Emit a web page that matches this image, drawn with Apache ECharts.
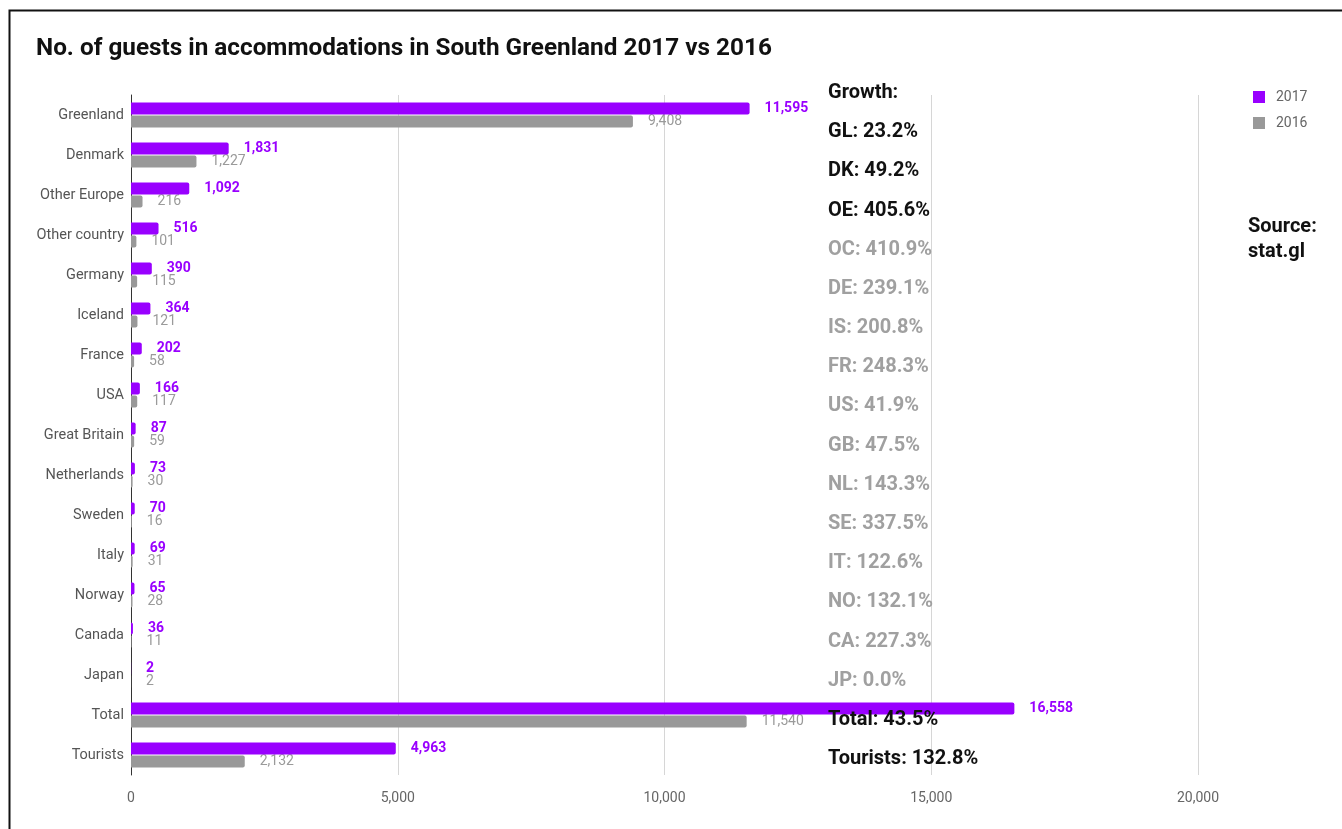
<!DOCTYPE html>
<html>
<head>
<meta charset="utf-8">
<script src="https://cdn.jsdelivr.net/npm/echarts@6/dist/echarts.min.js"></script>
<style>
  html, body { margin: 0; padding: 0; background: #ffffff; }
  #chart { width: 1342px; height: 829px; }
</style>
</head>
<body>
<div id="chart"></div>
<script>
// Guests in accommodations, South Greenland, by nationality
const categories = ['Greenland', 'Denmark', 'Other Europe', 'Other country', 'Germany', 'Iceland',
  'France', 'USA', 'Great Britain', 'Netherlands', 'Sweden', 'Italy', 'Norway', 'Canada', 'Japan',
  'Total', 'Tourists'];
const guests2017 = [11595, 1831, 1092, 516, 390, 364, 202, 166, 87, 73, 70, 69, 65, 36, 2, 16558, 4963];
const guests2016 = [9408, 1227, 216, 101, 115, 121, 58, 117, 59, 30, 16, 31, 28, 11, 2, 11540, 2132];
const xTicks = [0, 5000, 10000, 15000, 20000];

// Growth notes shown beside the bars (dark = highlighted, grey = others)
const growthLines = ['Growth:', 'GL: 23.2%', 'DK: 49.2%', 'OE: 405.6%', 'OC: 410.9%', 'DE: 239.1%',
  'IS: 200.8%', 'FR: 248.3%', 'US: 41.9%', 'GB: 47.5%', 'NL: 143.3%', 'SE: 337.5%', 'IT: 122.6%',
  'NO: 132.1%', 'CA: 227.3%', 'JP: 0.0%', 'Total: 43.5%', 'Tourists: 132.8%'];
const growthHighlighted = [true, true, true, true, false, false, false, false, false, false, false,
  false, false, false, false, false, true, true];
const sourceLines = ['Source:', 'stat.gl'];

const PURPLE = '#9900ff';
const GREY = '#999999';
const FONT = 'Roboto, "Noto Sans", Arial, sans-serif';

const fmt = v => Number(v).toLocaleString('en-US');

const chart = echarts.init(document.getElementById('chart'), null, { renderer: 'canvas' });

const graphics = [
  // frame around the chart (left and top edges)
  {
    type: 'polyline',
    shape: { points: [[9.5, 829], [9.5, 10.5], [1342, 10.5]] },
    style: { stroke: '#111', lineWidth: 2, fill: null },
    z: 10
  }
];
growthLines.forEach((t, i) => {
  graphics.push({
    type: 'text',
    left: 828,
    top: 83 + i * 39.18,
    z: 20,
    style: {
      text: t,
      fill: growthHighlighted[i] ? '#111111' : '#a0a0a0',
      font: 'bold 20px ' + FONT
    }
  });
});
sourceLines.forEach((t, i) => {
  graphics.push({
    type: 'text',
    left: 1248,
    top: 217 + i * 25,
    z: 20,
    style: { text: t, fill: '#111111', font: 'bold 20px ' + FONT }
  });
});

const option = {
  animation: false,
  backgroundColor: '#ffffff',
  textStyle: { fontFamily: FONT },
  title: {
    text: 'No. of guests in accommodations in South Greenland 2017 vs 2016',
    left: 31,
    top: 32,
    textStyle: { fontSize: 24.3, fontWeight: 'bold', color: '#111111', fontFamily: FONT }
  },
  legend: {
    orient: 'vertical',
    left: 1248,
    top: 85,
    itemWidth: 12,
    itemHeight: 12,
    itemGap: 12,
    icon: 'rect',
    textStyle: { color: '#666666', fontSize: 14, fontFamily: FONT, padding: [0, 0, 0, 6] },
    data: ['2017', '2016']
  },
  grid: { left: 131, right: 144, top: 95, bottom: 54, containLabel: false },
  xAxis: {
    type: 'value',
    min: xTicks[0],
    max: xTicks[xTicks.length - 1],
    interval: xTicks[1] - xTicks[0],
    axisLine: { show: false },
    axisTick: { show: false },
    splitLine: { show: true, lineStyle: { color: '#d6d6d6', width: 1 } },
    axisLabel: { color: '#666666', fontSize: 14, margin: 16, formatter: v => fmt(v) }
  },
  yAxis: {
    type: 'category',
    inverse: true,
    data: categories,
    axisLine: { show: true, lineStyle: { color: '#333333', width: 1 } },
    axisTick: { show: false },
    axisLabel: { color: '#555555', fontSize: 14.5, margin: 7 }
  },
  series: [
    {
      name: '2017',
      type: 'bar',
      data: guests2017,
      barWidth: 12,
      barGap: '10%',
      itemStyle: { color: PURPLE, borderRadius: [0, 2, 2, 0] },
      label: {
        show: true,
        position: 'right',
        distance: 15,
        color: PURPLE,
        fontSize: 14,
        fontWeight: 'bold',
        formatter: p => fmt(p.value)
      },
      z: 3
    },
    {
      name: '2016',
      type: 'bar',
      data: guests2016,
      barWidth: 12,
      itemStyle: { color: GREY, borderRadius: [0, 2, 2, 0] },
      label: {
        show: true,
        position: 'right',
        distance: 15,
        color: '#9a9a9a',
        fontSize: 14,
        formatter: p => fmt(p.value)
      },
      z: 2
    }
  ],
  graphic: graphics
};

chart.setOption(option);
</script>
</body>
</html>
